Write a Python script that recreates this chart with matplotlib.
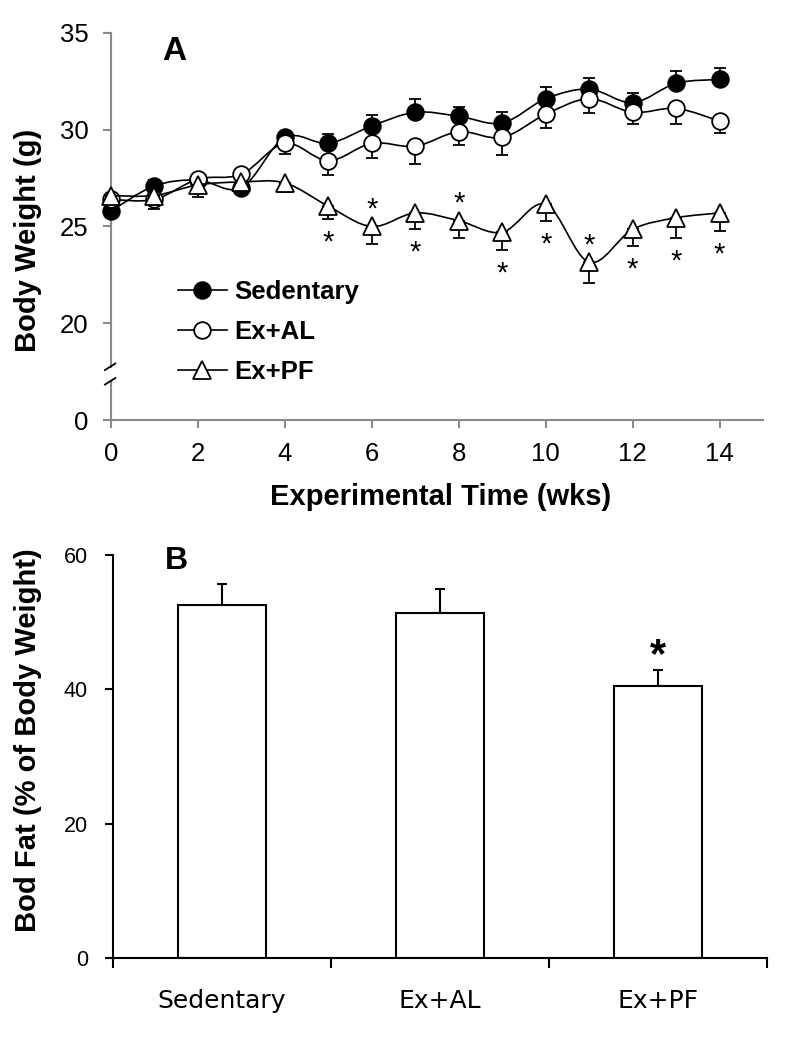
import numpy as np
import matplotlib
matplotlib.use("Agg")
import matplotlib.pyplot as plt
from matplotlib.path import Path
from matplotlib.patches import PathPatch
from matplotlib.lines import Line2D

plt.rcParams['font.family'] = ['Liberation Sans', 'DejaVu Sans']

# ---------------- data: panel A ----------------
weeks = [0, 1, 2, 3, 4, 5, 6, 7, 8, 9, 10, 11, 12, 13, 14]
sed_mean = [25.8, 27.1, 27.4, 27.0, 29.6, 29.3, 30.2, 30.9, 30.7, 30.35, 31.6, 32.1, 31.4, 32.4, 32.6]
sed_err = [0.2, 0.3, 0.2, 0.2, 0.25, 0.5, 0.57, 0.7, 0.5, 0.57, 0.62, 0.57, 0.5, 0.62, 0.57]
al_mean = [26.4, 26.4, 27.45, 27.7, 29.3, 28.4, 29.3, 29.15, 29.9, 29.6, 30.8, 31.6, 30.9, 31.1, 30.45]
al_err = [0.3, 0.5, 0.2, 0.2, 0.57, 0.72, 0.78, 0.93, 0.67, 0.88, 0.72, 0.72, 0.62, 0.78, 0.62]
pf_mean = [26.6, 26.6, 27.15, 27.3, 27.25, 26.05, 25.0, 25.7, 25.3, 24.7, 26.15, 23.15, 24.85, 25.45, 25.7]
pf_err = [0.3, 0.5, 0.6, 0.3, 0.47, 0.67, 0.88, 0.83, 0.88, 0.93, 0.88, 1.08, 0.88, 1.03, 0.93]
# significance markers for Ex+PF: week and placement
sig_weeks = [5, 6, 7, 8, 9, 10, 11, 12, 13, 14]
sig_side = ['below', 'above', 'below', 'above', 'below', 'below', 'above', 'below', 'below', 'below']
series_labels = ['Sedentary', 'Ex+AL', 'Ex+PF']
a_yticks = [15, 20, 25, 30, 35]
a_yticklabels = ['0', '20', '25', '30', '35']
a_xticks = [0, 2, 4, 6, 8, 10, 12, 14]

# ---------------- data: panel B ----------------
groups = ['Sedentary', 'Ex+AL', 'Ex+PF']
fat_mean = [52.5, 51.4, 40.5]
fat_err = [3.15, 3.5, 2.35]
fat_sig = [False, False, True]
b_yticks = [0, 20, 40, 60]

W, H = 792, 1050
fig = plt.figure(figsize=(W / 100, H / 100), dpi=100)

def smooth_path(x, y):
    pts = np.column_stack([x, y]).astype(float)
    n = len(pts)
    verts = [pts[0]]
    codes = [Path.MOVETO]
    for i in range(n - 1):
        p0 = pts[i - 1] if i > 0 else pts[i]
        p1 = pts[i]
        p2 = pts[i + 1]
        p3 = pts[i + 2] if i + 2 < n else pts[i + 1]
        c1 = p1 + (p2 - p0) / 6.0
        c2 = p2 - (p3 - p1) / 6.0
        verts += [c1, c2, p2]
        codes += [Path.CURVE4] * 3
    return Path(verts, codes)

# ---------------- panel A ----------------
gray = '#8a8a8a'
axA = fig.add_axes([111 / W, 1 - 420 / H, (763 - 111) / W, (420 - 33) / H])
axA.set_xlim(0, 15)
axA.set_ylim(15, 35)

styles = [
    dict(marker='o', mfc='black', mec='black'),
    dict(marker='o', mfc='white', mec='black'),
    dict(marker='^', mfc='white', mec='black'),
]
means = [sed_mean, al_mean, pf_mean]
errs = [sed_err, al_err, pf_err]
ms = [12, 12, 13]
for k in range(3):
    e = np.array(errs[k])
    z = np.zeros_like(e)
    yerr = [z, e] if k == 0 else [e, z]
    axA.errorbar(weeks, means[k], yerr=yerr, fmt='none', ecolor='black',
                 elinewidth=1.3, capsize=4.5, capthick=1.3, zorder=2 + 2 * k, clip_on=False)
    axA.add_patch(PathPatch(smooth_path(weeks, means[k]), fill=False, edgecolor='black',
                            lw=1.2, zorder=2 + 2 * k, clip_on=False))
    axA.plot(weeks, means[k], linestyle='none', ms=ms[k], mew=1.3, zorder=3 + 2 * k,
             clip_on=False, **styles[k])

for wk, side in zip(sig_weeks, sig_side):
    i = weeks.index(wk)
    if side == 'below':
        axA.annotate('*', (wk, pf_mean[i] - pf_err[i]), xytext=(0, -17), textcoords='offset points',
                     ha='center', va='center', fontsize=21)
    else:
        axA.annotate('*', (wk, pf_mean[i]), xytext=(0, 12), textcoords='offset points',
                     ha='center', va='center', fontsize=21)

for s in ['top', 'right', 'left']:
    axA.spines[s].set_visible(False)
axA.spines['bottom'].set_color(gray)
axA.spines['bottom'].set_linewidth(1.5)
# broken left axis
brk_lo, brk_hi = 17.0, 17.75
axA.plot([0, 0], [brk_hi, 35], color=gray, lw=1.5, clip_on=False, zorder=1)
axA.plot([0, 0], [15, brk_lo], color=gray, lw=1.5, clip_on=False, zorder=1)
for yb in (brk_lo, brk_hi):
    axA.plot([-0.14, 0.1], [yb - 0.17, yb + 0.17], color='black', lw=1.3, clip_on=False, zorder=1)

axA.set_yticks(a_yticks)
axA.set_yticklabels(a_yticklabels)
axA.set_xticks(a_xticks)
axA.tick_params(axis='both', direction='out', length=6, width=1.5, color=gray,
                labelsize=18.5, labelcolor='black')
axA.tick_params(axis='y', pad=10)
axA.tick_params(axis='x', pad=10)
axA.set_ylabel('Body Weight (g)', fontsize=21, fontweight='bold')
axA.yaxis.set_label_coords((42 - 111) / 652, (420 - 240) / 387)
axA.set_xlabel('Experimental Time (wks)', fontsize=21, fontweight='bold')
axA.xaxis.set_label_coords((441 - 111) / 652, (420 - 483) / 387)
axA.text((162 - 111) / 652, (420 - 52) / 387, 'A', transform=axA.transAxes,
         fontsize=24, fontweight='bold', ha='left', va='center')

handles = [Line2D([], [], color='black', lw=1.2, ms=ms[k], mew=1.3, **styles[k]) for k in range(3)]
axA.legend(handles, series_labels, loc='upper left', bbox_to_anchor=((178 - 111) / 652, (420 - 280) / 387),
           frameon=False, borderpad=0, borderaxespad=0, handlelength=1.9, handletextpad=0.3,
           labelspacing=0.62, prop={'size': 18.5, 'weight': 'bold'})

# ---------------- panel B ----------------
axB = fig.add_axes([113 / W, 1 - 958 / H, (767 - 113) / W, (958 - 555) / H])
xpos = np.arange(len(groups)) + 0.5
axB.bar(xpos, fat_mean, width=0.4, color='white', edgecolor='black', linewidth=1.5, zorder=2)
axB.errorbar(xpos, fat_mean, yerr=[np.zeros(3), fat_err], fmt='none', ecolor='black',
             elinewidth=1.5, capsize=3.5, capthick=1.5, zorder=1)
for x, m, e, s in zip(xpos, fat_mean, fat_err, fat_sig):
    if s:
        axB.annotate('*', (x, m + e), xytext=(0, 10), textcoords='offset points',
                     ha='center', va='center', fontsize=30, fontweight='bold')
axB.set_xlim(0, 3)
axB.set_ylim(0, 60)
for s in ['top', 'right']:
    axB.spines[s].set_visible(False)
for s in ['left', 'bottom']:
    axB.spines[s].set_linewidth(1.5)
axB.set_yticks(b_yticks)
axB.set_xticks([0, 1, 2, 3])
axB.set_xticklabels([])
axB.set_xticks(xpos, minor=True)
axB.set_xticklabels(groups, minor=True, fontsize=18, family='DejaVu Sans')
axB.tick_params(axis='x', which='major', direction='out', length=7, width=1.5)
axB.tick_params(axis='x', which='minor', length=0, pad=22)
axB.tick_params(axis='y', direction='out', length=6, width=1.5, labelsize=15.5, pad=12)
axB.set_ylabel('Bod Fat (% of Body Weight)', fontsize=21, fontweight='bold')
axB.yaxis.set_label_coords((42 - 113) / 654, (958 - 740) / 403)
axB.text((165 - 113) / 654, (958 - 561) / 403, 'B', transform=axB.transAxes,
         fontsize=23, fontweight='bold', ha='left', va='center')

fig.savefig('out.png', dpi=100)
